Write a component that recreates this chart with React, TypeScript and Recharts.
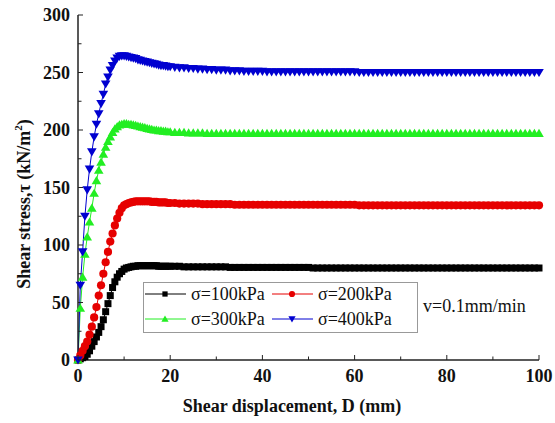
import React from "react"
import { LineChart, Line, XAxis, YAxis, Legend } from "recharts"

// shear displacement D (mm): dense sampling on the rising part, 1 mm after 20 mm
const displacement = [
  0, 0.5, 1, 1.5, 2, 2.5, 3, 3.5, 4, 4.5,
  5, 5.5, 6, 6.5, 7, 7.5, 8, 8.5, 9, 9.5,
  10, 10.5, 11, 11.5, 12, 12.5, 13, 13.5, 14, 14.5,
  15, 15.5, 16, 16.5, 17, 17.5, 18, 18.5, 19, 19.5,
  20, 21, 22, 23, 24, 25, 26, 27, 28, 29,
  30, 31, 32, 33, 34, 35, 36, 37, 38, 39,
  40, 41, 42, 43, 44, 45, 46, 47, 48, 49,
  50, 51, 52, 53, 54, 55, 56, 57, 58, 59,
  60, 61, 62, 63, 64, 65, 66, 67, 68, 69,
  70, 71, 72, 73, 74, 75, 76, 77, 78, 79,
  80, 81, 82, 83, 84, 85, 86, 87, 88, 89,
  90, 91, 92, 93, 94, 95, 96, 97, 98, 99,
  100,
]

// shear stress (kN/m2) for each normal stress
const stress100 = [
  0, 1, 2, 3, 5, 8, 12, 16, 20, 24,
  29, 35, 42, 49, 56, 63, 68, 72, 75, 77,
  79, 80, 80.5, 81, 81.5, 81.5, 82, 82, 82, 82,
  82, 82, 82, 82, 82, 81.5, 81.5, 81.5, 81.5, 81.5,
  81.5, 81.5, 81.5, 81, 81, 81, 81, 81, 81, 81,
  81, 81, 81, 80.5, 80.5, 80.5, 80.5, 80.5, 80.5, 80.5,
  80.5, 80.5, 80.5, 80.5, 80.5, 80.5, 80.5, 80.5, 80.5, 80.5,
  80.5, 80, 80, 80, 80, 80, 80, 80, 80, 80,
  80, 80, 80, 80, 80, 80, 80, 80, 80, 80,
  80, 80, 80, 80, 80, 80, 80, 80, 80, 80,
  80, 80, 80, 80, 80, 80, 80, 80, 80, 80,
  80, 80, 80, 80, 80, 80, 80, 80, 80, 80,
  80,
]

const stress200 = [
  0, 4, 8, 12, 16, 22, 29, 37, 46, 56,
  65, 75, 85, 94, 103, 110, 117, 123, 128, 132,
  134.5, 135.5, 136.5, 137, 137.5, 138, 138, 138, 138, 138,
  138, 138, 137.5, 137.5, 137.5, 137, 137, 137, 137, 136.5,
  136.5, 136.5, 136, 136, 136, 136, 136, 135.5, 135.5, 135.5,
  135.5, 135.5, 135.5, 135.5, 135, 135, 135, 135, 135, 135,
  135, 135, 135, 135, 135, 135, 135, 135, 135, 135,
  135, 135, 135, 135, 135, 135, 135, 135, 135, 135,
  135, 134.5, 134.5, 134.5, 134.5, 134.5, 134.5, 134.5, 134.5, 134.5,
  134.5, 134.5, 134.5, 134.5, 134.5, 134.5, 134.5, 134.5, 134.5, 134.5,
  134.5, 134.5, 134.5, 134.5, 134.5, 134.5, 134.5, 134.5, 134.5, 134.5,
  134.5, 134.5, 134.5, 134.5, 134.5, 134.5, 134.5, 134.5, 134.5, 134.5,
  134.5,
]

const stress300 = [
  0, 45, 72, 92, 107, 120, 132, 145, 156, 165,
  172, 179, 185, 190, 194, 198, 201, 203, 204.5, 205,
  205.5, 205.5, 205, 205, 204.5, 204, 203.5, 203, 202.5, 202,
  201.5, 201, 200.5, 200, 200, 199.5, 199.5, 199, 199, 198.5,
  198.5, 198, 198, 198, 197.5, 197.5, 197.5, 197.5, 197, 197,
  197, 197, 197, 197, 197, 197, 197, 197, 197, 197,
  197, 197, 197, 197, 197, 197, 197, 197, 197, 197,
  197, 197, 197, 197, 197, 197, 197, 197, 197, 197,
  197, 197, 197, 197, 197, 197, 197, 197, 197, 197,
  197, 197, 197, 197, 197, 197, 197, 197, 197, 197,
  197, 197, 197, 197, 197, 197, 197, 197, 197, 197,
  197, 197, 197, 197, 197, 197, 197, 197, 197, 197,
  197,
]

const stress400 = [
  0, 65, 94, 125, 148, 166, 181, 194, 205, 214,
  223, 231, 240, 246, 252, 256, 260, 262.5, 264, 264.5,
  264.5, 264, 263.5, 263, 262.5, 262, 261, 260.5, 260, 259.5,
  259, 258.5, 258, 257.5, 257, 256.5, 256, 256, 255.5, 255,
  255, 254.5, 254, 254, 253.5, 253.5, 253, 253, 252.5, 252.5,
  252, 252, 252, 251.5, 251.5, 251.5, 251, 251, 251, 251,
  251, 250.5, 250.5, 250.5, 250.5, 250.5, 250.5, 250.5, 250.5, 250.5,
  250.5, 250.5, 250.5, 250.5, 250.5, 250.5, 250.5, 250.5, 250.5, 250.5,
  250.5, 250, 250, 250, 250, 250, 250, 250, 250, 250,
  250, 250, 250, 250, 250, 250, 250, 250, 250, 250,
  250, 250, 250, 250, 250, 250, 250, 250, 250, 250,
  250, 250, 250, 250, 250, 250, 250, 250, 250, 250,
  250,
]

const xTicks = [0, 10, 20, 30, 40, 50, 60, 70, 80, 90, 100]
const yTicks = [0, 25, 50, 75, 100, 125, 150, 175, 200, 225, 250, 275, 300]

const data = displacement.map((d, i) => ({
  d,
  s100: stress100[i],
  s200: stress200[i],
  s300: stress300[i],
  s400: stress400[i],
}))

const SERIES = [
  { key: "s100", name: "σ=100kPa", color: "#000000", shape: "square" },
  { key: "s200", name: "σ=200kPa", color: "#e60000", shape: "circle" },
  { key: "s300", name: "σ=300kPa", color: "#22ee22", shape: "up" },
  { key: "s400", name: "σ=400kPa", color: "#0000d0", shape: "down" },
]

const SERIF = "'Liberation Serif', 'Times New Roman', serif"
const AXIS = { stroke: "#222", strokeWidth: 1.5 }

function Marker({ cx, cy, shape, color, s = 1 }: any) {
  if (cx == null || cy == null) return null
  if (shape === "square") {
    return <rect x={cx - 3.5 * s} y={cy - 3.5 * s} width={7 * s} height={7 * s} fill={color} />
  }
  if (shape === "circle") {
    return <circle cx={cx} cy={cy} r={4.1 * s} fill={color} />
  }
  if (shape === "up") {
    return <path d={`M${cx},${cy - 4.6 * s}L${cx + 4.8 * s},${cy + 3.6 * s}L${cx - 4.8 * s},${cy + 3.6 * s}Z`} fill={color} />
  }
  return <path d={`M${cx},${cy + 4.6 * s}L${cx + 4.8 * s},${cy - 3.6 * s}L${cx - 4.8 * s},${cy - 3.6 * s}Z`} fill={color} />
}

function BottomTick({ x, y, payload }: any) {
  const v = payload.value
  const major = v % 20 === 0
  return (
    <g>
      <line x1={x} x2={x} y1={y} y2={y - (major ? 5 : 3.5)} stroke="#222" />
      {major && (
        <text x={x} y={y + 22} textAnchor="middle" fontFamily={SERIF} fontWeight="bold" fontSize={18} fill="#111">
          {v}
        </text>
      )}
    </g>
  )
}

function TopTick({ x, y, payload }: any) {
  const major = payload.value % 20 === 0
  return <line x1={x} x2={x} y1={y} y2={y + (major ? 5 : 3.5)} stroke="#222" />
}

function LeftTick({ x, y, payload }: any) {
  const v = payload.value
  const major = v % 50 === 0
  return (
    <g>
      <line x1={x} x2={x + (major ? 5 : 3.5)} y1={y} y2={y} stroke="#222" />
      {major && (
        <text x={x - 8} y={y + 6} textAnchor="end" fontFamily={SERIF} fontWeight="bold" fontSize={18} fill="#111">
          {v}
        </text>
      )}
    </g>
  )
}

function RightTick({ x, y, payload }: any) {
  const major = payload.value % 50 === 0
  return <line x1={x} x2={x - (major ? 5 : 3.5)} y1={y} y2={y} stroke="#222" />
}

function XTitle() {
  return (
    <text x={292} y={412} textAnchor="middle" fontFamily={SERIF} fontWeight="bold" fontSize={18} fill="#111">
      Shear displacement, D (mm)
    </text>
  )
}

function YTitle() {
  return (
    <text
      x={30}
      y={204}
      transform="rotate(-90 30 204)"
      textAnchor="middle"
      fontFamily={SERIF}
      fontWeight="bold"
      fontSize={18}
      fill="#111"
    >
      Shear stress,τ (kN/m<tspan dy={-8} fontSize={11}>2</tspan>
      <tspan dy={8}>)</tspan>
    </text>
  )
}

function LegendBox() {
  const cols = [0, 127]
  const rows = [12, 37]
  return (
    <svg width={400} height={52} style={{ display: "block", overflow: "visible" }}>
      <rect x={0.5} y={0.5} width={274} height={50} fill="#fff" stroke="#999" />
      {SERIES.map((s, i) => {
        const x0 = cols[i % 2]
        const y0 = rows[Math.floor(i / 2)]
        return (
          <g key={s.key}>
            <line x1={x0 + 2} x2={x0 + 43} y1={y0} y2={y0} stroke={s.color} strokeWidth={1} />
            <Marker cx={x0 + 22} cy={y0} shape={s.shape} color={s.color} s={0.75} />
            <text x={x0 + 48} y={y0 + 6} fontFamily={SERIF} fontSize={18} fill="#111">
              {s.name}
            </text>
          </g>
        )
      })}
      <text x={280} y={30} fontFamily={SERIF} fontSize={18} fill="#111">
        v=0.1mm/min
      </text>
    </svg>
  )
}

export default function App() {
  return (
    <div style={{ position: "absolute", left: 0, top: 0, width: 555, height: 423, background: "#fff" }}>
      <LineChart width={555} height={423} data={data} margin={{ top: 15, right: 16, bottom: 0, left: 18 }}>
        <XAxis
          dataKey="d"
          type="number"
          domain={[0, 100]}
          ticks={xTicks}
          interval={0}
          height={63}
          tickSize={0}
          tickMargin={0}
          tickLine={false}
          axisLine={AXIS}
          tick={<BottomTick />}
          label={XTitle}
        />
        <XAxis
          xAxisId="top"
          orientation="top"
          type="number"
          domain={[0, 100]}
          ticks={xTicks}
          interval={0}
          height={0}
          tickSize={0}
          tickMargin={0}
          tickLine={false}
          axisLine={AXIS}
          tick={<TopTick />}
        />
        <YAxis
          type="number"
          domain={[0, 300]}
          ticks={yTicks}
          interval={0}
          width={60}
          tickSize={0}
          tickMargin={0}
          tickLine={false}
          axisLine={AXIS}
          tick={<LeftTick />}
          label={YTitle}
        />
        <YAxis
          yAxisId="right"
          orientation="right"
          type="number"
          domain={[0, 300]}
          ticks={yTicks}
          interval={0}
          width={0}
          tickSize={0}
          tickMargin={0}
          tickLine={false}
          axisLine={AXIS}
          tick={<RightTick />}
        />
        <Legend
          layout="horizontal"
          verticalAlign="middle"
          align="center"
          content={() => <LegendBox />}
          wrapperStyle={{ position: "absolute", left: 143, top: 282, width: 400, height: 52 }}
        />
        {SERIES.map((s) => (
          <Line
            key={s.key}
            dataKey={s.key}
            name={s.name}
            type="linear"
            stroke={s.color}
            strokeWidth={1}
            isAnimationActive={false}
            dot={(p: any) => <Marker key={`${s.key}-${p.index}`} cx={p.cx} cy={p.cy} shape={s.shape} color={s.color} />}
            activeDot={false}
          />
        ))}
      </LineChart>
    </div>
  )
}
